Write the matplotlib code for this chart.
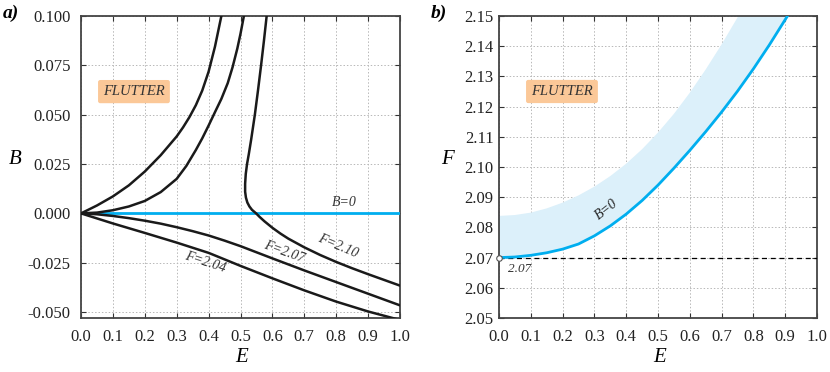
import matplotlib
matplotlib.use("Agg")
import matplotlib.pyplot as plt
from matplotlib.ticker import FormatStrFormatter

plt.rcParams['font.family'] = ['Liberation Serif', 'DejaVu Serif']
plt.rcParams['axes.unicode_minus'] = False

# ---------------- data: panel a)  (B values in units of 1e-3) ----------------
E_up_204 = [0, 0.05, 0.1, 0.15, 0.2, 0.25, 0.3, 0.32, 0.34, 0.36, 0.38, 0.40, 0.42, 0.44, 0.445]
B_up_204 = [0, 4.0, 8.6, 14.2, 21.2, 29.5, 39.0, 43.6, 48.8, 54.8, 62.2, 71.8, 84.5, 100.0, 104.0]

E_up_207 = [0, 0.05, 0.1, 0.15, 0.2, 0.25, 0.3, 0.33, 0.36, 0.38, 0.40, 0.42, 0.44, 0.46,
            0.475, 0.49, 0.50, 0.51, 0.515]
B_up_207 = [0, 0.4, 1.6, 3.5, 6.3, 10.8, 17.5, 24.0, 32.1, 38.0, 44.5, 51.3, 58.0, 66.0,
            74.0, 83.5, 91.0, 99.5, 104.0]

E_lo_207 = [0, 0.05, 0.1, 0.15, 0.2, 0.25, 0.3, 0.35, 0.4, 0.45, 0.5, 0.6, 0.7, 0.8, 0.9, 1.0]
B_lo_207 = [0, -0.45, -1.3, -2.4, -3.7, -5.2, -7.0, -9.0, -11.2, -13.8, -16.6, -22.8, -28.9,
            -34.8, -40.7, -46.6]

E_lo_204 = [0, 0.1, 0.2, 0.3, 0.4, 0.5, 0.6, 0.7, 0.8, 0.9, 1.0]
B_lo_204 = [0, -5.1, -9.9, -14.8, -20.0, -26.6, -32.9, -39.0, -44.7, -49.7, -54.0]

E_210 = [0.583, 0.582, 0.5735, 0.5645, 0.555, 0.545, 0.5335, 0.526, 0.5205, 0.5165, 0.5145, 0.5145,
         0.517, 0.5215, 0.528, 0.536, 0.549, 0.56, 0.575, 0.6, 0.625, 0.65, 0.7, 0.75, 0.8,
         0.85, 0.9, 0.95, 1.0]
B_210 = [104.0, 100.0, 87.5, 75.0, 62.5, 50.0, 37.5, 30.0, 25.0, 20.0, 15.0, 11.0,
         8.0, 5.5, 3.5, 1.8, 0.0, -1.8, -4.0, -7.3, -10.2, -12.8, -17.2, -21.1, -24.6,
         -27.8, -30.8, -33.7, -36.6]

E_axis = [0.0, 1.0]
B_zero = [0.0, 0.0]

# ---------------- data: panel b)  (F - 2.07 in units of 1e-3) ----------------
F_crit = 2.07
E_flut = [0, 0.05, 0.1, 0.15, 0.2, 0.25, 0.3, 0.35, 0.4, 0.45, 0.5, 0.55, 0.6, 0.65, 0.7,
          0.75, 0.8, 0.85, 0.9, 0.91, 0.915]
dF_flut = [0, 0.2, 0.75, 1.6, 2.8, 4.5, 7.2, 10.5, 14.4, 18.9, 24.0, 29.6, 35.5, 41.7, 48.2,
           55.1, 62.5, 70.4, 78.8, 80.5, 81.4]

E_band = [0, 0.05, 0.1, 0.15, 0.2, 0.25, 0.3, 0.35, 0.4, 0.45, 0.5, 0.55, 0.6, 0.65, 0.7, 0.75, 0.8]
dF_band = [13.8, 14.1, 14.9, 16.3, 18.2, 20.6, 23.5, 27.0, 31.1, 35.9, 41.4, 47.6, 54.6, 62.3,
           70.6, 79.5, 89.0]

a_xticks = [0.0, 0.1, 0.2, 0.3, 0.4, 0.5, 0.6, 0.7, 0.8, 0.9, 1.0]
a_yticks = [-0.05, -0.025, 0.0, 0.025, 0.05, 0.075, 0.1]
b_yticks = [2.05, 2.06, 2.07, 2.08, 2.09, 2.10, 2.11, 2.12, 2.13, 2.14, 2.15]

BLUE = '#00aeef'
BAND = '#dcf0fa'
ORANGE = '#fbc898'
INK = '#1a1a1a'


def milli(vals):
    return [v * 1e-3 for v in vals]


def shifted(vals):
    return [F_crit + v * 1e-3 for v in vals]


fig = plt.figure(figsize=(8.3, 3.72), dpi=100)
axA = fig.add_axes([81/830, 1-318/372, 319/830, 302/372])
axB = fig.add_axes([499/830, 1-318/372, 318/830, 302/372])


def style(ax, ypad):
    ax.grid(True, color='#b8b8b8', linestyle=(0, (1.5, 2)), linewidth=0.7)
    ax.set_axisbelow(True)
    ax.tick_params(direction='in', length=3.5, width=0.8, top=True, right=True,
                   labelsize=12, colors='#333333', labelcolor='#222222')
    ax.tick_params(axis='x', pad=8)
    ax.tick_params(axis='y', pad=ypad)
    for s in ax.spines.values():
        s.set_color('#444444')
        s.set_linewidth(1.3)


# ---- panel a ----
style(axA, 7.5)
axA.plot(E_axis, B_zero, color=BLUE, lw=2.0, zorder=3)
for E, B in [(E_up_204, B_up_204), (E_up_207, B_up_207), (E_lo_207, B_lo_207),
             (E_lo_204, B_lo_204), (E_210, B_210)]:
    axA.plot(E, milli(B), color=INK, lw=1.8, zorder=4, solid_capstyle='round',
             solid_joinstyle='round')
axA.set_xlim(0, 1)
axA.set_ylim(-0.053, 0.1)
axA.set_xticks(a_xticks)
axA.set_yticks(a_yticks)
axA.xaxis.set_major_formatter(FormatStrFormatter('%.1f'))
axA.yaxis.set_major_formatter(FormatStrFormatter('%.3f'))
axA.set_xlabel('E', fontsize=15, style='italic', va='center')
axA.set_ylabel('B', fontsize=15, style='italic', rotation=0, va='center', ha='center')
axA.xaxis.set_label_coords(0.505, -0.132)
axA.yaxis.set_label_coords((15 - 81) / 319, (318 - 160) / 302)

lab = dict(fontsize=10, style='italic', color='#333333', ha='center', va='center')
axA.text(0.824, 0.0057, 'B=0', **lab)
axA.text(0.806, -0.0166, 'F=2.10', rotation=-23, **lab)
axA.text(0.636, -0.0196, 'F=2.07', rotation=-20, **lab)
axA.text(0.391, -0.0245, 'F=2.04', rotation=-18, **lab)
axA.text(0.166, 0.0617, 'FLUTTER', fontsize=10.5, style='italic', color='#333333',
         ha='center', va='center',
         bbox=dict(boxstyle='round,pad=0.35,rounding_size=0.15', fc=ORANGE, ec='none'))

# ---- panel b ----
style(axB, 4)
poly_E = E_flut + E_band[::-1]
poly_F = shifted(dF_flut) + shifted(dF_band)[::-1]
axB.fill(poly_E, poly_F, color=BAND, lw=0, zorder=1)
axB.axhline(F_crit, color='black', lw=0.9, linestyle=(0, (4, 3)), zorder=3)
axB.plot(E_flut, shifted(dF_flut), color=BLUE, lw=2.0, zorder=4, solid_joinstyle='round')
axB.plot([0], [F_crit], marker='o', ms=4, mfc='white', mec='#555555', mew=0.8,
         clip_on=False, zorder=6)
axB.set_xlim(0, 1)
axB.set_ylim(2.05, 2.15)
axB.set_xticks(a_xticks)
axB.set_yticks(b_yticks)
axB.xaxis.set_major_formatter(FormatStrFormatter('%.1f'))
axB.yaxis.set_major_formatter(FormatStrFormatter('%.2f'))
axB.set_xlabel('E', fontsize=15, style='italic', va='center')
axB.set_ylabel('F', fontsize=15, style='italic', rotation=0, va='center', ha='center')
axB.xaxis.set_label_coords(0.505, -0.132)
axB.yaxis.set_label_coords((447.5 - 499) / 318, (318 - 160) / 302)
axB.text(0.066, 2.0662, '2.07', fontsize=9.5, style='italic', color='#333333', ha='center', va='center')
axB.text(0.339, 2.0858, 'B=0', fontsize=10, style='italic', color='#222222', rotation=38,
         ha='center', va='center', zorder=5)
axB.text(0.198, 2.125, 'FLUTTER', fontsize=10.5, style='italic', color='#333333',
         ha='center', va='center',
         bbox=dict(boxstyle='round,pad=0.35,rounding_size=0.15', fc=ORANGE, ec='none'))

fig.text(3/830, 1-13/372, 'a)', fontsize=14, style='italic', weight='bold', va='center', ha='left')
fig.text(431/830, 1-13/372, 'b)', fontsize=14, style='italic', weight='bold', va='center', ha='left')

fig.savefig('out.png', dpi=100)
